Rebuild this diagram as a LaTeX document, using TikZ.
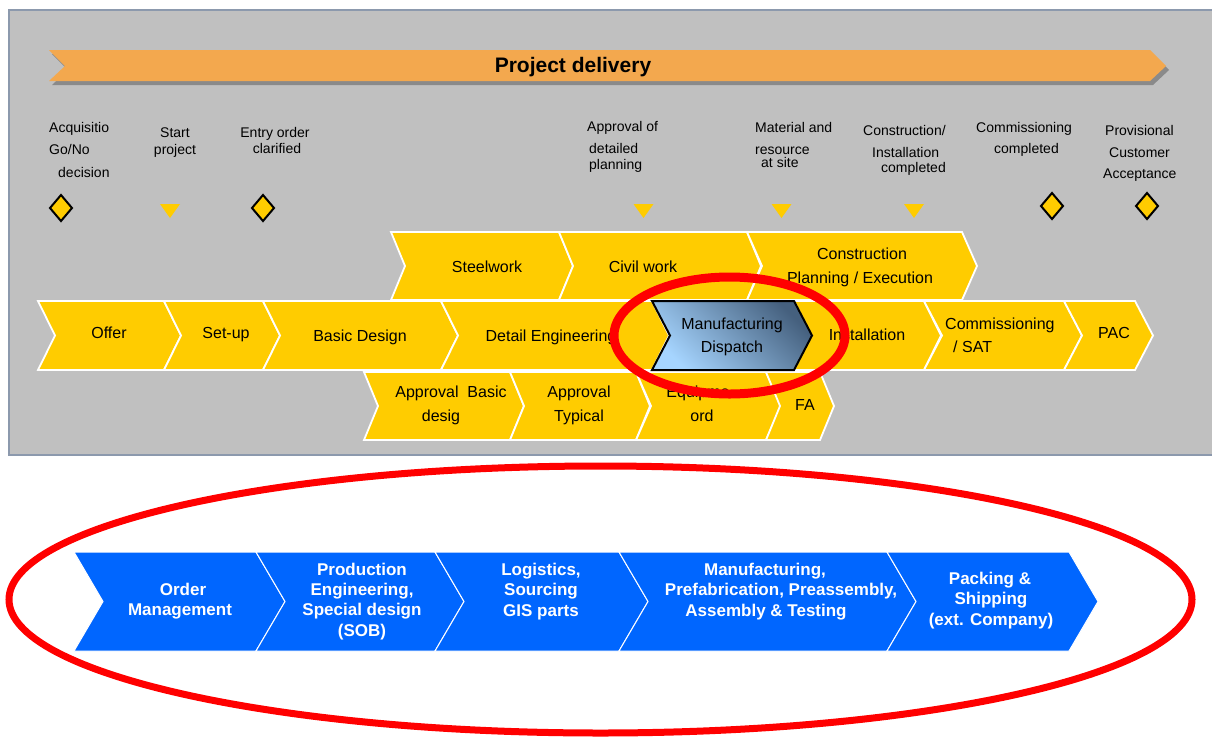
\documentclass[tikz,border=0pt]{standalone}
\usepackage{fontspec}
\setmainfont{Liberation Sans}
\definecolor{ybar}{HTML}{FFCC00}
\definecolor{orng}{HTML}{F3A84E}
\definecolor{panel}{HTML}{C0C0C0}
\definecolor{panelline}{HTML}{8C99AD}
\definecolor{bshadow}{HTML}{8A8A8A}
\definecolor{bblue}{HTML}{0066FF}
\definecolor{mlight}{HTML}{A6D5FF}
\definecolor{mdark}{HTML}{45607E}
\definecolor{ringred}{HTML}{FF0000}
\newcommand\chev[6]{\path[#1] (#2,#4) -- (#3,#4) -- (#3+#6,{(#4+#5)/2}) -- (#3,#5) -- (#2,#5) -- (#2+#6,{(#4+#5)/2}) -- cycle;}
\newcommand\msdia[2]{\path[diam] (#1,#2-13) -- (#1+11,#2) -- (#1,#2+13) -- (#1-11,#2) -- cycle;}
\newcommand\mstri[1]{\path[fill=ybar] (#1-10,204) -- (#1+10,204) -- (#1,218) -- cycle;}
\tikzset{
 ychev/.style={fill=ybar, draw=white, line width=1.8pt},
 bchev/.style={fill=bblue, draw=white, line width=1pt},
 diam/.style={fill=ybar, draw=black, line width=2pt},
 lab/.style={font=\fontsize{16}{19}\selectfont, inner sep=0pt, anchor=base},
 mlab/.style={font=\fontsize{14}{17}\selectfont, inner sep=0pt, anchor=base west},
 mlabc/.style={font=\fontsize{14}{17}\selectfont, inner sep=0pt, anchor=base},
 blab/.style={font=\bfseries\fontsize{17}{20}\selectfont, text=white, inner sep=0pt, anchor=base},
 ring/.style={draw=ringred},
}
\begin{document}
\begin{tikzpicture}[x=1pt,y=-1pt]
\useasboundingbox (0,0) rectangle (1212,739);
\fill[white] (0,0) rectangle (1212,739);
% grey panel
\path[fill=panel, draw=panelline, line width=2pt] (9,10) rectangle (1225,455);
% banner
\path[fill=bshadow] (52,54) -- (1153,54) -- (1169,70) -- (1153,85) -- (52,85) -- (68,70) -- cycle;
\path[fill=orng] (49,50) -- (1150,50) -- (1166,66) -- (1150,81) -- (49,81) -- (65,66) -- cycle;
\node[font=\bfseries\fontsize{21}{24}\selectfont, inner sep=0pt, anchor=base] (title) at (573,72.5) {Project delivery};
% milestones text
\node[mlab] (a1) at (49,132) {Acquisitio};
\node[mlab] (a2) at (49,154) {Go/No};
\node[mlab] (a3) at (58,177) {decision};
\node[mlabc] (b1) at (175,137) {Start};
\node[mlabc] (b2) at (175,154) {project};
\node[mlabc] (c1) at (275,137) {Entry order};
\node[mlabc] (c2) at (277,153) {clarified};
\node[mlab] (d1) at (587,131) {Approval of};
\node[mlab] (d2) at (589,153) {detailed};
\node[mlab] (d3) at (589,169) {planning};
\node[mlab] (e1) at (755,132) {Material and};
\node[mlab] (e2) at (755,154) {resource};
\node[mlab] (e3) at (761,167) {at site};
\node[mlab] (f1) at (863,135) {Construction/};
\node[mlab] (f2) at (872,157) {Installation};
\node[mlab] (f3) at (881,172) {completed};
\node[mlab] (g1) at (976,132) {Commissioning};
\node[mlab] (g2) at (994,153) {completed};
\node[mlab] (h1) at (1105,135) {Provisional};
\node[mlab] (h2) at (1109,157) {Customer};
\node[mlab] (h3) at (1103,178) {Acceptance};
% milestone markers
\msdia{61}{208}
\mstri{170}
\msdia{263}{208}
\mstri{643.5}
\mstri{781.5}
\mstri{914}
\msdia{1052}{206}
\msdia{1147}{206}
% row 1
\chev{ychev}{391}{559}{232}{300}{14}
\chev{ychev}{559}{747}{232}{300}{14}
\chev{ychev}{747}{962}{232}{300}{15}
\node[lab] (steel) at (487,272.5) {Steelwork};
\node[lab] (civil) at (643,272.5) {Civil work};
\node[lab] (cons1) at (862,259) {Construction};
\node[lab] (cons2) at (860,283) {Planning / Execution};
% row 3
\chev{ychev}{364}{510}{372}{440}{14}
\chev{ychev}{510}{636}{372}{440}{14}
\chev{ychev}{636}{766}{372}{440}{15}
\chev{ychev}{766}{820}{372}{440}{14}
\node[lab] (apb1) at (451,397) {Approval\ \ Basic};
\node[lab] (apb2) at (441,421.5) {desig};
\node[lab] (apt1) at (579,397) {Approval};
\node[lab] (apt2) at (579,421.5) {Typical};
\node[lab] (eq1) at (698,397) {Equipme};
\node[lab] (eq2) at (702,421.5) {ord};
\node[lab] (fa) at (805,410) {FA};
% row 2
\chev{ychev}{38}{164}{301}{370}{17}
\chev{ychev}{164}{263}{301}{370}{17}
\chev{ychev}{263}{441}{301}{370}{17}
\chev{ychev}{441}{652}{301}{370}{17}
\chev{ychev}{794}{924}{301}{370}{17}
\chev{ychev}{924}{1064}{301}{370}{18}
\chev{ychev}{1064}{1135}{301}{370}{18}
\chev{draw=black, line width=2pt, top color=mdark, bottom color=mlight, shading angle=-45}{652}{794}{301}{370}{18}
\node[lab] (offer) at (109,338) {Offer};
\node[lab] (setup) at (226,338) {Set-up};
\node[lab] (basic) at (360,341) {Basic Design};
\node[lab] (detail) at (551,341) {Detail Engineering};
\node[lab] (man1) at (732,329) {Manufacturing};
\node[lab] (man2) at (732,352) {Dispatch};
\node[lab] (inst) at (867,340) {Installation};
\node[lab, anchor=base west] (com1) at (945,329) {Commissioning};
\node[lab, anchor=base west] (com2) at (953,352.5) {/ SAT};
\node[lab] (pac) at (1114,338) {PAC};
% small ring
\draw[ring, line width=9pt] (729.5,335.5) ellipse [x radius=115.5pt, y radius=58.5pt];
% blue process
\chev{bchev}{74}{256}{552}{651}{29}
\chev{bchev}{256}{435}{552}{651}{29}
\chev{bchev}{435}{619}{552}{651}{29}
\chev{bchev}{619}{887}{552}{651}{29}
\chev{bchev}{887}{1069}{552}{651}{29}
\node[blab] (om1) at (183,595) {Order};
\node[blab] (om2) at (180,615) {Management};
\node[blab] (pe1) at (362,575) {Production};
\node[blab] (pe2) at (362,595) {Engineering,};
\node[blab] (pe3) at (362,615) {Special design};
\node[blab] (pe4) at (362,636) {(SOB)};
\node[blab] (lg1) at (541,575) {Logistics,};
\node[blab] (lg2) at (541,595) {Sourcing};
\node[blab] (lg3) at (541,616) {GIS parts};
\node[blab] (mf1) at (765,575) {Manufacturing,};
\node[blab] (mf2) at (781,595) {Prefabrication, Preassembly,};
\node[blab] (mf3) at (766,616) {Assembly \& Testing};
\node[blab] (ps1) at (990,584) {Packing \&};
\node[blab] (ps2) at (991,604) {Shipping};
\node[blab] (ps3) at (991,625) {(ext. Company)};
% big ring
\draw[ring, line width=7pt] (600.5,599.5) ellipse [x radius=591.5pt, y radius=133.5pt];
\end{tikzpicture}
\end{document}
